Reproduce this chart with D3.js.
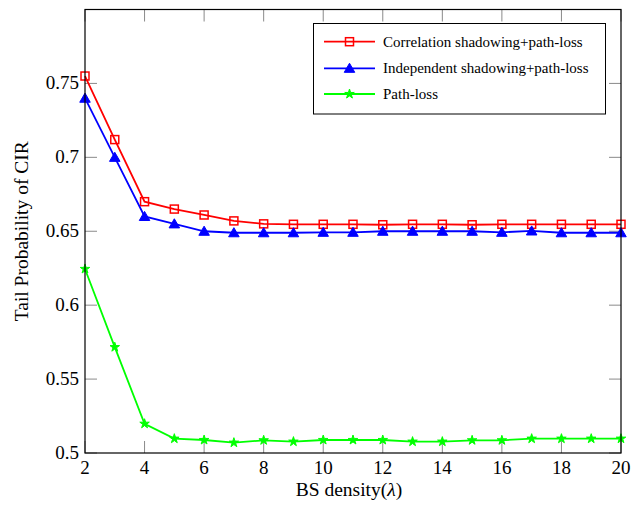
<!DOCTYPE html>
<html><head><meta charset="utf-8">
<script src="https://cdn.jsdelivr.net/npm/d3@7"></script>
<style>body{margin:0;background:#fff}svg{display:block}text{font-family:"Liberation Serif","Times New Roman",serif;fill:#000}</style>
</head><body>
<script>
const xValues = [2,3,4,5,6,7,8,9,10,11,12,13,14,15,16,17,18,19,20];
const corrShadow = [0.755,0.712,0.670,0.665,0.661,0.657,0.655,0.6547,0.6547,0.6547,0.6544,0.6547,0.6547,0.6544,0.6547,0.6547,0.6547,0.6547,0.6547];
const indepShadow = [0.740,0.700,0.660,0.655,0.650,0.649,0.649,0.649,0.6493,0.6493,0.650,0.650,0.650,0.650,0.6493,0.6502,0.649,0.649,0.649];
const pathLoss = [0.6245,0.5716,0.5198,0.5097,0.5088,0.507,0.5086,0.5077,0.5088,0.5088,0.5088,0.5077,0.5077,0.5086,0.5086,0.5097,0.5097,0.5097,0.5097];
const xTicks = [2,4,6,8,10,12,14,16,18,20];
const yTicks = [0.5,0.55,0.6,0.65,0.7,0.75];
const seriesNames = ["Correlation shadowing+path-loss","Independent shadowing+path-loss","Path-loss"];

const W=633,H=511;
const L=85,R=621,T=9.5,B=453;
const svg=d3.select("body").append("svg").attr("width",W).attr("height",H);
const x=d3.scaleLinear().domain([2,20]).range([L,R]);
const y=d3.scaleLinear().domain([0.5,0.8]).range([B,T]);
const tickLen=12, tickCol="#8a8a8a";

// ticks
const g=svg.append("g");
xTicks.forEach(t=>{
  g.append("line").attr("x1",x(t)).attr("x2",x(t)).attr("y1",B).attr("y2",B-tickLen).attr("stroke",tickCol).attr("stroke-width",1);
  g.append("line").attr("x1",x(t)).attr("x2",x(t)).attr("y1",T).attr("y2",T+tickLen).attr("stroke",tickCol).attr("stroke-width",1);
  g.append("text").attr("x",x(t)).attr("y",B+21).attr("text-anchor","middle").attr("font-size",19).text(t);
});
yTicks.forEach(t=>{
  g.append("line").attr("x1",L).attr("x2",L+tickLen).attr("y1",y(t)).attr("y2",y(t)).attr("stroke",tickCol).attr("stroke-width",1);
  g.append("line").attr("x1",R).attr("x2",R-tickLen).attr("y1",y(t)).attr("y2",y(t)).attr("stroke",tickCol).attr("stroke-width",1);
  g.append("text").attr("x",L-6).attr("y",y(t)+6).attr("text-anchor","end").attr("font-size",19).text(String(t));
});

const line=d3.line().x((d,i)=>x(xValues[i])).y(d=>y(d));
const series=[
  {vals:corrShadow,color:"#ff0000",marker:"square"},
  {vals:indepShadow,color:"#0000ff",marker:"triangle"},
  {vals:pathLoss,color:"#00ff00",marker:"star"}
];
function drawMarker(sel,type,color,cx,cy){
  if(type==="square"){
    sel.append("rect").attr("x",cx-4).attr("y",cy-4).attr("width",8).attr("height",8).attr("fill","none").attr("stroke",color).attr("stroke-width",1.5);
  } else if(type==="triangle"){
    sel.append("path").attr("d",d3.symbol(d3.symbolTriangle,48)()).attr("transform",`translate(${cx},${cy+1})`).attr("fill",color).attr("stroke",color).attr("stroke-width",1);
  } else {
    sel.append("path").attr("d",d3.symbol(d3.symbolStar,28)()).attr("transform",`translate(${cx},${cy})`).attr("fill",color).attr("stroke",color).attr("stroke-width",1);
  }
}
series.forEach(s=>{
  svg.append("path").datum(s.vals).attr("d",line).attr("fill","none").attr("stroke",s.color).attr("stroke-width",1.8);
  const mg=svg.append("g");
  s.vals.forEach((v,i)=>drawMarker(mg,s.marker,s.color,x(xValues[i]),y(v)));
});

// frame
svg.append("rect").attr("x",L).attr("y",T).attr("width",R-L).attr("height",B-T).attr("fill","none").attr("stroke","#000").attr("stroke-width",1.2);

// legend
const lg=svg.append("g");
lg.append("rect").attr("x",313.5).attr("y",23.5).attr("width",292).attr("height",90.5).attr("fill","#fff").attr("stroke","#000").attr("stroke-width",1);
const ly=[41.7,68.3,94];
series.forEach((s,i)=>{
  lg.append("line").attr("x1",324).attr("x2",375).attr("y1",ly[i]).attr("y2",ly[i]).attr("stroke",s.color).attr("stroke-width",1.8);
  drawMarker(lg,s.marker,s.color,349.5,ly[i]);
  lg.append("text").attr("x",383).attr("y",ly[i]+5).attr("font-size",15).text(seriesNames[i]);
});

// axis titles
const xt=svg.append("text").attr("x",(L+R)/2-4).attr("y",496).attr("text-anchor","middle").attr("font-size",19.5);
xt.append("tspan").text("BS density(");
xt.append("tspan").attr("font-style","italic").text("λ");
xt.append("tspan").text(")");
svg.append("text").attr("transform",`translate(28,${(T+B)/2}) rotate(-90)`).attr("text-anchor","middle").attr("font-size",19.5).text("Tail Probability of CIR");
</script>
</body></html>
